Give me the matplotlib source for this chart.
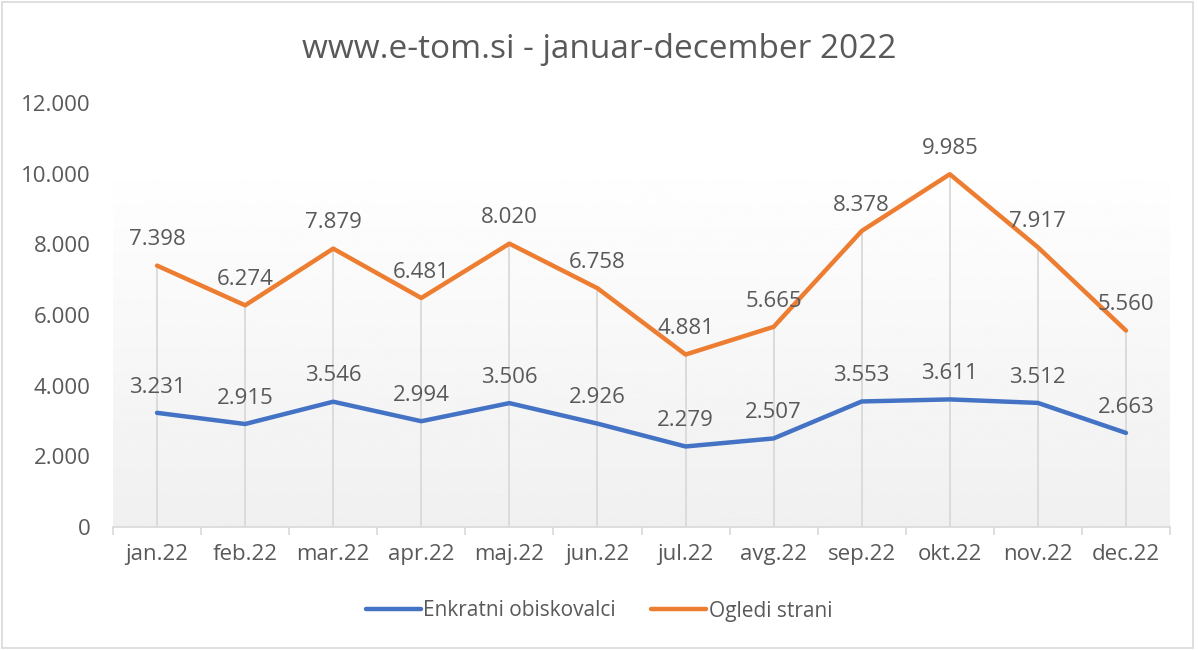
import matplotlib.pyplot as plt
import numpy as np
from matplotlib.patches import Rectangle

months = ["jan.22", "feb.22", "mar.22", "apr.22", "maj.22", "jun.22",
          "jul.22", "avg.22", "sep.22", "okt.22", "nov.22", "dec.22"]
obiskovalci = [3231, 2915, 3546, 2994, 3506, 2926, 2279, 2507, 3553, 3611, 3512, 2663]
ogledi = [7398, 6274, 7879, 6481, 8020, 6758, 4881, 5665, 8378, 9985, 7917, 5560]

plt.rcParams['font.family'] = ['Open Sans', 'DejaVu Sans']
txt = "#595959"

def fmt(v):
    return f"{v:,}".replace(",", ".")

fig = plt.figure(figsize=(11.98, 6.5), dpi=100)
ax = fig.add_axes([113/1198, 1-527/650, (1170-113)/1198, (527-103)/650])

x = np.arange(len(months))
ax.set_xlim(-0.5, len(months) - 0.5)
ax.set_ylim(0, 12000)

# gradient background
grad = np.linspace(0.94, 1.0, 256).reshape(-1, 1)
ax.imshow(grad, extent=[-0.5, 11.5, 0, 10500], origin="lower", aspect="auto",
          cmap="gray", vmin=0, vmax=1, zorder=0)

# drop lines
top = np.maximum(obiskovalci, ogledi)
ax.vlines(x, 0, top, color="#d9d9d9", lw=1.3, zorder=1)

ax.plot(x, obiskovalci, color="#4472c4", lw=3.2, solid_capstyle="round",
        solid_joinstyle="round", label="Enkratni obiskovalci", zorder=3)
ax.plot(x, ogledi, color="#ed7d31", lw=3.2, solid_capstyle="round",
        solid_joinstyle="round", label="Ogledi strani", zorder=3)

for xi, v in zip(x, obiskovalci):
    ax.annotate(fmt(v), (xi, v), xytext=(0, 11), textcoords="offset points",
                ha="center", va="bottom", fontsize=16, color=txt)
for xi, v in zip(x, ogledi):
    ax.annotate(fmt(v), (xi, v), xytext=(0, 11), textcoords="offset points",
                ha="center", va="bottom", fontsize=16, color=txt)

ax.set_yticks(range(0, 12001, 2000))
ax.set_yticklabels([fmt(v) for v in range(0, 12001, 2000)])
ax.set_xticks(x)
ax.set_xticklabels(months)
ax.set_xticks(np.arange(-0.5, 12, 1), minor=True)
ax.tick_params(axis="x", which="major", length=0, pad=12, labelsize=16, labelcolor=txt)
ax.tick_params(axis="x", which="minor", length=6, color="#d9d9d9", width=1.2)
ax.tick_params(axis="y", length=0, pad=16, labelsize=16, labelcolor=txt)

for s in ["top", "right", "left"]:
    ax.spines[s].set_visible(False)
ax.spines["bottom"].set_color("#d9d9d9")
ax.spines["bottom"].set_linewidth(1.2)

fig.text(0.5, 1 - 49/650, "www.e-tom.si - januar-december 2022", ha="center",
         va="center", fontsize=24, color=txt)

fig.legend(loc="center", bbox_to_anchor=(0.5, 1 - 611/650), ncol=2, frameon=False,
           fontsize=15, labelcolor=txt, handlelength=2.65, handletextpad=0.1,
           columnspacing=1.7)

fig.patches.append(Rectangle((0.002, 0.003), 0.994, 0.994, transform=fig.transFigure,
                             fill=False, edgecolor="#d9d9d9", lw=1.2))

fig.savefig("out.png", dpi=100)
